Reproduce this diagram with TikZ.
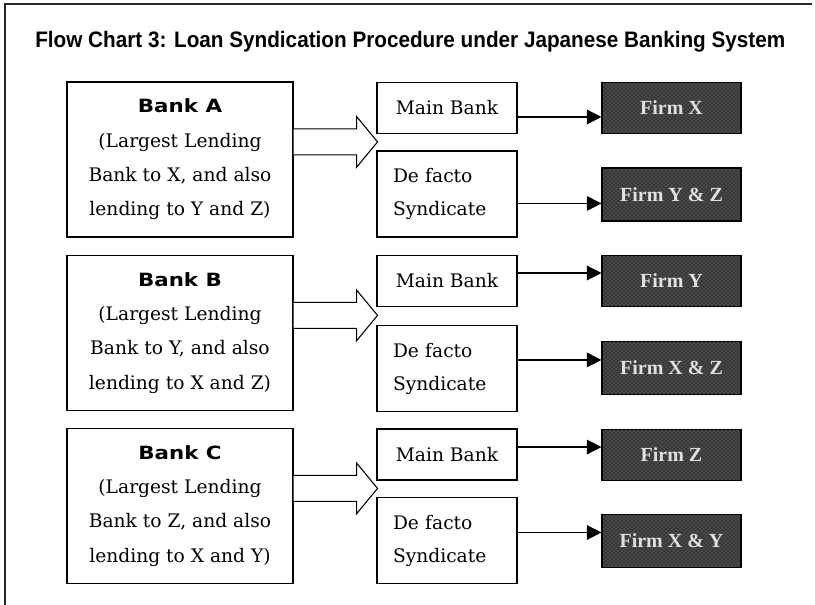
\documentclass[tikz,border=0pt]{standalone}
\usepackage{fontspec}
\usepackage{graphicx}
\usetikzlibrary{arrows.meta,patterns}
\newfontfamily\titlefont{Liberation Sans}
\newfontfamily\bankheadfont{DejaVu Sans}
\newfontfamily\bodyfont{DejaVu Serif}
\newfontfamily\firmfont{Liberation Serif}
\newcommand{\bankhead}[1]{{\bankheadfont\bfseries\fontsize{13.7pt}{25.7pt}\selectfont\scalebox{1.17}[1]{#1}}}
\begin{document}
\begin{tikzpicture}[x=0.75pt,y=-0.75pt,
  frameline/.style={line width=0.8pt, draw=black!85},
  box/.style={draw, line width=0.8pt, inner sep=0pt, fill=white},
  bankbox/.style={box, minimum width=169.5pt, minimum height=116.25pt, align=center,
    font={\bodyfont\fontsize{14pt}{25.7pt}\selectfont}},
  mainbox/.style={box, minimum width=105pt, minimum height=38.25pt,
    font={\bodyfont\fontsize{14pt}{17pt}\selectfont}},
  defbox/.style={box, minimum height=64.5pt, text width=81pt, inner xsep=12pt, align=left,
    font={\bodyfont\fontsize{14pt}{24.75pt}\selectfont}},
  firmbox/.style={draw, line width=0.8pt, inner sep=0pt, minimum width=104.25pt,
    preaction={fill=black!78}, pattern=crosshatch dots, pattern color=black!50,
    text=black!12, font={\firmfont\bfseries\fontsize{15pt}{17pt}\selectfont}},
  conn/.style={line width=1pt, -{Triangle[length=11pt,width=11pt]}},
  blockarrow/.style={line width=0.8pt, fill=white, line join=miter}
]
\useasboundingbox (0,0) rectangle (815,605);
% frame
\draw[frameline] (5,605) -- (5,4) -- (812,4);
% title
\node[anchor=base west, inner sep=0pt, font={\titlefont\bfseries\fontsize{16.8pt}{20pt}\selectfont}] (title) at (35,48)
  {\resizebox{562.5pt}{\height}{Flow Chart 3: Loan Syndication Procedure under Japanese Banking System}};
% bank boxes
\node[bankbox] (bankA) at (180,159.5) {\bankhead{Bank A}\\(Largest Lending\\Bank to X, and also\\lending to Y and Z)};
\node[bankbox] (bankB) at (180,333) {\bankhead{Bank B}\\(Largest Lending\\Bank to Y, and also\\lending to X and Z)};
\node[bankbox] (bankC) at (180,506) {\bankhead{Bank C}\\(Largest Lending\\Bank to Z, and also\\lending to X and Y)};
% main bank / de facto boxes
\node[mainbox] (mbA) at (447,108) {Main Bank};
\node[defbox] (dfA) at (447,194) {De facto\\Syndicate};
\node[mainbox] (mbB) at (447,281) {Main Bank};
\node[defbox] (dfB) at (447,368.5) {De facto\\Syndicate};
\node[mainbox] (mbC) at (447,454.5) {Main Bank};
\node[defbox] (dfC) at (447,540.5) {De facto\\Syndicate};
% firm boxes
\node[firmbox, minimum height=38.25pt] (fX) at (671.5,108) {Firm X};
\node[firmbox, minimum height=39.75pt] (fYZ) at (671.5,194.5) {Firm Y \& Z};
\node[firmbox, minimum height=38.25pt] (fY) at (671.5,281) {Firm Y};
\node[firmbox, minimum height=39.75pt] (fXZ) at (671.5,368) {Firm X \& Z};
\node[firmbox, minimum height=38.25pt] (fZ) at (671.5,455) {Firm Z};
\node[firmbox, minimum height=39.75pt] (fXY) at (671.5,541) {Firm X \& Y};
% block arrows
\foreach \b in {bankA,bankB,bankC}{
  \draw[blockarrow] ([yshift=22.9pt]\b.east) -- ++(47.25pt,0) -- ++(0,9.4pt)
    -- ++(15.75pt,-19.1pt) -- ++(-15.75pt,-19.1pt) -- ++(0,9.4pt) -- ++(-47.25pt,0);
}
% connectors
\draw[conn] ([yshift=-6.75pt]mbA.east) coordinate (sA) -- (sA -| fX.west);
\draw[conn] ([yshift=-7.1pt]dfA.east) coordinate (tA) -- (tA -| fYZ.west);
\draw[conn] ([yshift=6pt]mbB.east) coordinate (sB) -- (sB -| fY.west);
\draw[conn] ([yshift=6.4pt]dfB.east) coordinate (tB) -- (tB -| fXZ.west);
\draw[conn] ([yshift=5.6pt]mbC.east) coordinate (sC) -- (sC -| fZ.west);
\draw[conn] ([yshift=6pt]dfC.east) coordinate (tC) -- (tC -| fXY.west);
\end{tikzpicture}
\end{document}
